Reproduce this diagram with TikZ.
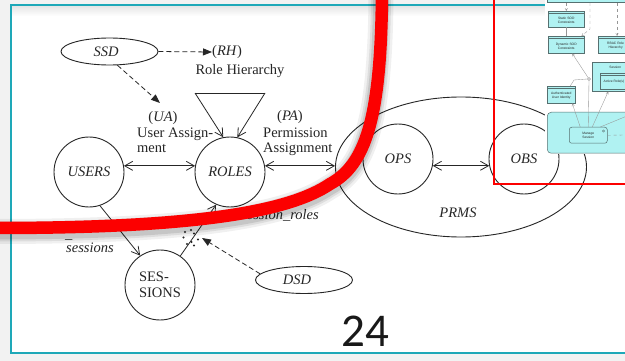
\documentclass[tikz,border=0pt]{standalone}
\usepackage{fontspec}
\setmainfont{Liberation Serif}
\newfontfamily\slidefont{Carlito}
\newfontfamily\umlfont{Liberation Sans}
\usetikzlibrary{arrows.meta,shapes.geometric,calc}

\definecolor{framecyan}{RGB}{30,168,184}
\definecolor{backgray}{RGB}{242,242,242}
\definecolor{ink}{RGB}{38,38,38}
\definecolor{umlfill}{RGB}{176,242,242}
\definecolor{umlline}{RGB}{86,112,112}
\definecolor{umlwire}{RGB}{150,150,150}
\definecolor{markred}{RGB}{252,0,0}

\tikzset{
  setnode/.style={draw=ink, line width=0.9pt, ellipse, minimum width=70pt,
    minimum height=70pt, inner sep=0pt, text=ink,
    font=\fontsize{14.5}{15}\selectfont\itshape},
  constraint/.style={draw=ink, line width=0.9pt, ellipse, minimum width=97pt,
    minimum height=27pt, inner sep=0pt, text=ink,
    font=\fontsize{14.5}{15}\selectfont\itshape},
  lbl/.style={inner sep=0pt, text=ink, font=\fontsize{14.5}{15}\selectfont},
  ilbl/.style={lbl, font=\fontsize{14.5}{15}\selectfont\itshape},
  rel/.style={draw=ink, line width=0.8pt},
  dsh/.style={draw=ink, line width=0.8pt, dash pattern=on 5pt off 3pt,
    -{Triangle[length=9pt,width=7pt]}},
  umlbox/.style={draw=umlline, fill=umlfill, line width=0.5pt, inner sep=0pt},
  umltxt/.style={inner sep=0pt, align=center, text=black!85,
    font=\umlfont\fontsize{3.3}{4}\selectfont},
  wire/.style={draw=umlwire, line width=0.35pt},
  wiretip/.style={-{Straight Barb[length=2.5pt,width=2.5pt]}},
}

% the thick hand-drawn marker stroke
\newcommand\markstroke[1]{\draw[#1] (-5,228) .. controls (200,228) and (290,211) .. (330,184)
  .. controls (365,165) and (381,120) .. (382,-6);}

\begin{document}
\begin{tikzpicture}[x=1pt,y=-1pt, >={Straight Barb[length=8pt,width=9pt]}]
\useasboundingbox (0,0) rectangle (625,361);
\begin{scope}
\clip (0,0) rectangle (625,361);

% slide page and its frame
\fill[backgray] (0,0) rectangle (625,361);
\fill[white] (11,5) rectangle (640,353);
\shade[top color=black!10, bottom color=white] (12,6) rectangle (640,16);
\draw[framecyan, line width=1.6pt] (11,5) rectangle (640,353);

% RBAC element sets
\node[setnode] (USERS) at (89,172) {USERS};
\node[setnode] (ROLES) at (230,172) {ROLES};
\node[setnode] (OPS) at (398,159) {OPS};
\node[setnode] (OBS) at (524,159) {OBS};
\node[setnode, font=\fontsize{14.5}{16.5}\selectfont, align=left] (SESSIONS) at (160,285) {SES-\\SIONS};
\node[draw=ink, line width=0.9pt, ellipse, minimum width=251pt, minimum height=140pt] (PRMS) at (461,167) {};
\node[ilbl] (prmslbl) at (458,213) {PRMS};

% constraints
\node[constraint] (SSD) at (109.5,51.5) {{\kern-7pt SSD}};
\node[constraint] (DSD) at (304,280) {{\kern-14pt DSD}};

% role hierarchy
\node[lbl, anchor=west] (rhlbl) at (212,52) {(\textit{RH})};
\node[lbl] (rhname) at (240,71) {Role Hierarchy};
\coordinate (rhl) at (195,93);
\coordinate (rhr) at (265,93);
\draw[rel] (rhl) -- (rhr);
\draw[rel,->] (rhl) -- (ROLES.101);
\draw[rel,->] (rhr) -- (ROLES.78);

% assignment labels
\node[lbl] (ualbl) at (163,118) {(\textit{UA})};
\node[lbl, anchor=base west] (uaname1) at (137,137.5) {User Assign-};
\node[lbl, anchor=base west] (uaname2) at (137,152.5) {ment};
\node[lbl] (palbl) at (290,117) {(\textit{PA})};
\node[lbl, anchor=base west] (paname1) at (263,137.5) {Permission};
\node[lbl, anchor=base west] (paname2) at (263,152.5) {Assignment};

% relations
\draw[rel,<->] (USERS.10) -- (ROLES.170);
\draw[rel,<->] (ROLES.10) -- (ROLES.10 -| PRMS.west);
\draw[rel,<->] (OPS.-11) -- (OBS.191);
\draw[rel,->] (USERS.-72) -- (SESSIONS.124);
\draw[rel,->] (SESSIONS.55) -- (ROLES.-113);
\node[ilbl, anchor=base east] (usbar) at (72.5,239) {\_};
\node[ilbl, anchor=base west] (uslbl) at (66,252) {sessions};
\node[ilbl, anchor=base east] (srlbl) at (319,219) {session\_roles};

% constraint arrows
\coordinate (uatip) at (160,103);
\coordinate (dsdtip) at (202,238);
\draw[dsh] (SSD.east) -- (rhlbl.west);
\draw[dsh] (SSD.-60) -- (uatip);
\draw[dsh] (DSD.172) -- (dsdtip);
\foreach \p in {(185,232),(191,230),(194,233.5),(183.5,237.5),(198,239.5),(191.5,242),(194,245.5),(187,244)}
  \fill[ink] \p circle (1.2pt);

% page number
\node[inner sep=0pt, font=\slidefont\fontsize{47}{47}\selectfont, text=black!90] (pageno) at (365,331) {24};

% pasted class-diagram excerpt
\fill[white] (545,-1) rectangle (626,154);
\node[umlbox, anchor=south west, minimum width=95pt, minimum height=14pt] (topbox) at (547,3) {};
\node[umlbox, anchor=north west, minimum width=36pt, minimum height=16pt] (ssod) at (548,11) {};
\draw[umlline, line width=0.4pt] ($(ssod.north west)+(0,2.5)$) -- ($(ssod.north east)+(0,2.5)$);
\node[umltxt] at ($(ssod.center)+(0,1.2)$) {Static SOD\\Constraints};
\node[umlbox, anchor=north west, minimum width=36pt, minimum height=17pt] (dsod) at (548,36) {};
\draw[umlline, line width=0.4pt] ($(dsod.north west)+(0,2.5)$) -- ($(dsod.north east)+(0,2.5)$);
\node[umltxt] at ($(dsod.center)+(0,1.2)$) {Dynamic SOD\\Constraints};
\node[umlbox, anchor=north west, minimum width=38pt, minimum height=17pt] (rbac) at (598,36) {};
\draw[umlline, line width=0.4pt] ($(rbac.north west)+(0,2.5)$) -- ($(rbac.north east)+(0,2.5)$);
\node[umltxt, anchor=east] at ($(rbac.center)+(7,1.2)$) {RBAC Role\\Hierarchy};
\node[umlbox, anchor=north west, minimum width=46pt, minimum height=29pt] (sess) at (592,62) {};
\node[umltxt, anchor=north] at ($(sess.north)+(0,3.5)$) {Session};
\node[umlbox, anchor=north west, minimum width=34pt, minimum height=16pt] (actrole) at (600,73) {};
\draw[umlline, line width=0.4pt] ($(actrole.north west)+(0,2.5)$) -- ($(actrole.north east)+(0,2.5)$);
\node[umltxt, anchor=west] at (603.5,82) {Active Role(s)};
\node[umlbox, anchor=north west, minimum width=28pt, minimum height=17pt] (auth) at (547,86) {};
\draw[umlline, line width=0.4pt] ($(auth.north west)+(0,2.5)$) -- ($(auth.north east)+(0,2.5)$);
\node[umltxt] at ($(auth.center)+(0,1.2)$) {Authenticated\\User Identity};
\node[umlbox, rounded corners=4pt, anchor=north west, minimum width=93pt, minimum height=41pt] (ctrl) at (547,112) {};
\node[draw=umlline, line width=0.5pt, rounded corners=2.5pt, anchor=north west, minimum width=38pt, minimum height=16pt, inner sep=0pt] (manage) at (569,127) {};
\node[umltxt] at (manage.center) {Manage\\Session};
\draw[umlline, line width=0.3pt] (603.5,131) circle (1.1pt);

\node[draw=umlwire, circle, line width=0.4pt, minimum size=3pt, inner sep=0pt] (iface) at (589,79) {};
\draw[wire, dashed, wiretip] (ssod.north |- topbox.south) -- (ssod.north);
\draw[wire] (ssod.south) -- (dsod.north);
\draw[wire, dashed, wiretip] (590,3) -- (590,29) -- ($(dsod.north east)+(-3,0)$);
\draw[wire, dashed, wiretip] (617,3) -- (rbac.north -| 617,0);
\draw[wire, wiretip] (iface) -- ($(dsod.south)+(6,0)$);
\draw[wire] (iface.west) -- (574,80) -- ($(auth.north)+(9,0)$);
\draw[wire, wiretip] ($(manage.north)+(-8,0)$) -- ($(auth.south)+(11,0)$);
\draw[wire] ($(manage.north)+(0,0)$) -- (iface.south);
\draw[wire, wiretip] ($(manage.north)+(4,0)$) -- ($(sess.south)+(-7,0)$);
\draw[wire] ($(manage.north)+(12,0)$) -- (627,116);
\draw[wire, dashed] (manage.east) -- (627,135);

% red outline around the excerpt
\draw[markred, line width=2.4pt] (494,-8) rectangle (640,184);

% marker stroke with its soft shadow
\markstroke{black, opacity=0.06, line width=25pt, shift={(-1,3.5)}}
\markstroke{black, opacity=0.08, line width=20pt, shift={(-1,3.5)}}
\markstroke{black, opacity=0.10, line width=16pt, shift={(-1,3.5)}}
\markstroke{markred, line width=12.5pt}
\end{scope}
\end{tikzpicture}
\end{document}
